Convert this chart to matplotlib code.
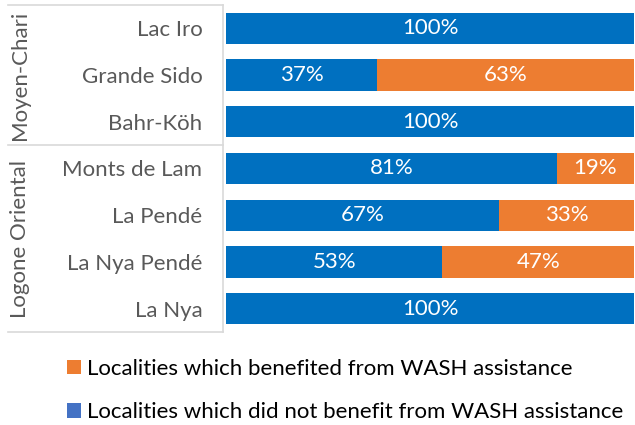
import matplotlib
matplotlib.use("Agg")
import matplotlib.pyplot as plt
from matplotlib.patches import Patch
from matplotlib.lines import Line2D

categories = ["Lac Iro", "Grande Sido", "Bahr-Köh", "Monts de Lam", "La Pendé", "La Nya Pendé", "La Nya"]
not_benefit = [100, 37, 100, 81, 67, 53, 100]
benefit = [0, 63, 0, 19, 33, 47, 0]
groups = ["Moyen-Chari", "Logone Oriental"]
group_sizes = [3, 4]
legend_labels = ["Localities which benefited from WASH assistance",
                 "Localities which did not benefit from WASH assistance"]

BLUE = "#0070C0"
ORANGE = "#ED7D31"
LEG_BLUE = "#4472C4"
GRID = "#D9D9D9"
TXT = "#595959"
FONT = "Lato"
FS = 16

W, H = 635, 425
fig = plt.figure(figsize=(W / 100, H / 100), dpi=100)

def fx(px):
    return px / W

def fy(py):
    return 1 - py / H

ax_left, ax_right, ax_top, ax_bot = 226, 635, 5, 332
ax = fig.add_axes([fx(ax_left), fy(ax_bot), fx(ax_right - ax_left), (ax_bot - ax_top) / H])

y = list(range(len(categories)))
ax.barh(y, not_benefit, height=0.67, color=BLUE)
ax.barh(y, benefit, left=not_benefit, height=0.67, color=ORANGE)

for i in y:
    if not_benefit[i] > 0:
        ax.text(not_benefit[i] / 2, i, f"{not_benefit[i]}%", ha="center", va="center",
                color="white", fontsize=FS, family=FONT)
    if benefit[i] > 0:
        ax.text(not_benefit[i] + benefit[i] / 2, i, f"{benefit[i]}%", ha="center", va="center",
                color="white", fontsize=FS, family=FONT)

ax.set_xlim(0, 100.2)
ax.set_ylim(len(categories) - 0.5, -0.5)
ax.set_yticks(y)
ax.set_yticklabels(categories, family=FONT, fontsize=FS, color=TXT)
ax.tick_params(axis="y", length=0, pad=17)
ax.set_xticks([])
for s in ax.spines.values():
    s.set_visible(False)

# category axis lines
def hline(x0, x1, py):
    fig.add_artist(Line2D([fx(x0), fx(x1)], [fy(py), fy(py)], color=GRID, lw=1.2, transform=fig.transFigure))

def vline(px, y0, y1):
    fig.add_artist(Line2D([fx(px), fx(px)], [fy(y0), fy(y1)], color=GRID, lw=1.2, transform=fig.transFigure))

vline(223.5, ax_top, ax_bot)
hline(8, 223.5, ax_top)
row_h = (ax_bot - ax_top) / len(categories)
start = 0
for g, n in zip(groups, group_sizes):
    y0 = ax_top + start * row_h
    y1 = ax_top + (start + n) * row_h
    hline(8, 223.5, y1)
    fig.text(fx(20), fy((y0 + y1) / 2), g, rotation=90, ha="center", va="center",
             family=FONT, fontsize=FS, color=TXT)
    start += n

handles = [Patch(facecolor=ORANGE, edgecolor="none"), Patch(facecolor=LEG_BLUE, edgecolor="none")]
fig.legend(handles, legend_labels, loc="upper left", bbox_to_anchor=(fx(67), fy(359)),
           frameon=False, prop={"family": FONT, "size": FS}, labelspacing=1.05,
           borderpad=0, borderaxespad=0,
           handlelength=0.63, handleheight=0.63, handletextpad=0.27, labelcolor="black")

fig.savefig("out.png", dpi=100)
